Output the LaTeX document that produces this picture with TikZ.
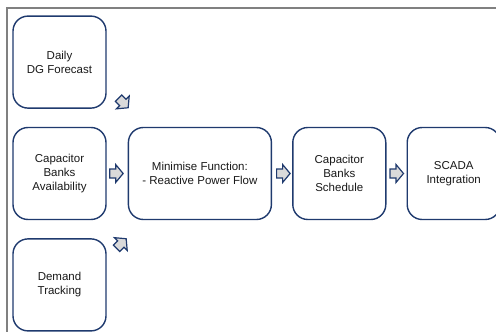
\documentclass[tikz,border=0pt]{standalone}
\usepackage{fontspec}
\setmainfont{Liberation Sans}
\usepackage{tikz}
\usetikzlibrary{positioning}
\usetikzlibrary{calc}
\definecolor{boxnavy}{HTML}{1F3A6E}
\definecolor{arrowgray}{HTML}{DADADA}
\definecolor{framegray}{HTML}{808080}

\begin{document}
\begin{tikzpicture}[
x=1pt, y=1pt,
stepbox/.style={rectangle, rounded corners=15pt, draw=boxnavy, line width=1.4pt, fill=white, minimum width=93pt, minimum height=92pt, align=center, text=black!90, font=\fontsize{11.5}{14}\selectfont, inner sep=2pt},
widebox/.style={stepbox, minimum width=143pt},
pics/flowarrow/.style={code={
\draw[draw=boxnavy, fill=arrowgray, line width=1.2pt, line join=miter]
(-6.5,-4.5) -- (-0.5,-4.5) -- (-0.5,-9) -- (7,0) -- (-0.5,9) -- (-0.5,4.5) -- (-6.5,4.5) -- cycle;
}},
node distance=18pt and 20pt
]
\useasboundingbox (0,0) rectangle (496,-332);
%Frame
\draw[framegray, line width=2pt] (6.5,-332) -- (6.5,-7.5) -- (496,-7.5);

%Nodes
\node[stepbox]		(avail)			at (59.5,-173.5)		{Capacitor\\Banks\\Availability};
\node[stepbox]		(dgfc)			[above=of avail]		{Daily\\DG Forecast};
\node[stepbox]		(demand)		[below=of avail]		{Demand\\Tracking};
\node[widebox]		(minf)			[right=21pt of avail]	{Minimise Function:\\- Reactive Power Flow};
\node[stepbox]		(sched)			[right=of minf]			{Capacitor\\Banks\\Schedule};
\node[stepbox]		(scada)			[right=of sched]		{SCADA\\Integration};

%Arrows
\pic[rotate=-45]	at ([xshift=16.5pt, yshift=6pt]dgfc.south east)			{flowarrow};
\pic				at ($(avail.east)!0.45!(minf.west)$)					{flowarrow};
\pic[rotate=45]		at ([xshift=14.5pt, yshift=-5.5pt]demand.north east)		{flowarrow};
\pic				at ($(minf.east)!0.55!(sched.west)$)					{flowarrow};
\pic				at ($(sched.east)!0.5!(scada.west)$)					{flowarrow};
\end{tikzpicture}
\end{document}
